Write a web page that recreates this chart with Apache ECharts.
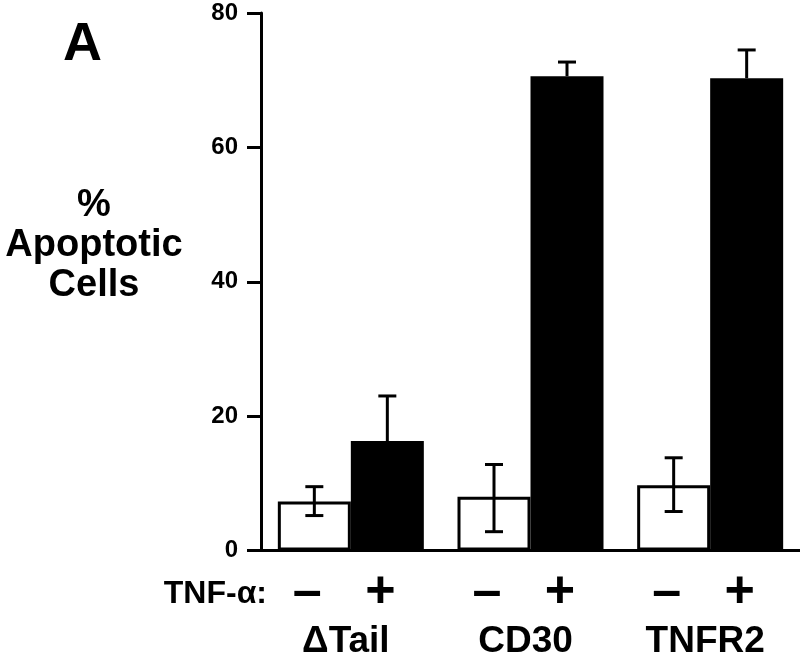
<!DOCTYPE html>
<html>
<head>
<meta charset="utf-8">
<script src="https://cdn.jsdelivr.net/npm/echarts@6/dist/echarts.min.js"></script>
<style>
html,body{margin:0;padding:0;background:#fff;}
#chart{width:800px;height:660px;}
</style>
</head>
<body>
<div id="chart"></div>
<script>
// ---- data ----
const groups = ['ΔTail', 'CD30', 'TNFR2'];
const treatmentSigns = ['–', '+'];
const untreated = [7.3, 8.0, 9.7];
const untreatedLow = [5.2, 2.8, 5.8];
const untreatedHigh = [9.5, 12.8, 13.8];
const treated = [16.3, 70.6, 70.3];
const treatedHigh = [23.0, 72.7, 74.5];
const yMin = 0, yMax = 80, yInterval = 20;

// ---- styling ----
const FONT = '"Liberation Sans", Arial, Helvetica, sans-serif';
const BAR_W = 73;

const chart = echarts.init(document.getElementById('chart'), null, {renderer: 'canvas'});

const errData = [];
groups.forEach((g, i) => {
  errData.push([i, untreatedLow[i], untreatedHigh[i], 0]);
  errData.push([i, treated[i], treatedHigh[i], 1]);
});

function renderErr(params, api) {
  const ci = api.value(0);
  const lo = api.coord([ci, api.value(1)]);
  const hi = api.coord([ci, api.value(2)]);
  const which = api.value(3);
  const x = lo[0] + (which === 0 ? -BAR_W / 2 : BAR_W / 2);
  const cap = 9;
  const style = {stroke: '#000', lineWidth: 3, fill: null};
  const children = [
    {type: 'line', shape: {x1: x, y1: lo[1], x2: x, y2: hi[1]}, style},
    {type: 'line', shape: {x1: x - cap, y1: hi[1], x2: x + cap, y2: hi[1]}, style}
  ];
  if (which === 0) {
    children.push({type: 'line', shape: {x1: x - cap, y1: lo[1], x2: x + cap, y2: lo[1]}, style});
  }
  return {type: 'group', children};
}

const option = {
  backgroundColor: '#fff',
  animation: false,
  grid: {left: 261, top: 13, width: 540, bottom: 108, containLabel: false},
  xAxis: {
    type: 'category',
    data: groups,
    axisLine: {lineStyle: {color: '#000', width: 3}},
    axisTick: {show: false},
    axisLabel: {
      margin: 20,
      interval: 0,
      formatter: function (v) {
        return '{s|' + treatmentSigns[0] + '}{s|' + treatmentSigns[1] + '}{pad|}\n{n|' + v + '}';
      },
      rich: {
        s: {width: BAR_W, align: 'center', fontSize: 52, fontWeight: 'bold', fontFamily: FONT, color: '#000', lineHeight: 44},
        pad: {width: 14, lineHeight: 44},
        n: {fontSize: 37, fontWeight: 'bold', fontFamily: FONT, color: '#000', lineHeight: 54, padding: [0, 10, 0, 0]}
      }
    }
  },
  yAxis: {
    type: 'value',
    min: yMin, max: yMax, interval: yInterval,
    axisLine: {show: true, lineStyle: {color: '#000', width: 3}},
    axisTick: {show: true, inside: false, length: 14, lineStyle: {color: '#000', width: 3}},
    splitLine: {show: false},
    axisLabel: {margin: 23, fontSize: 24, fontWeight: 'bold', fontFamily: FONT, color: '#000'}
  },
  series: [
    {
      type: 'bar', data: untreated, barWidth: BAR_W, barGap: '0%',
      itemStyle: {color: '#fff', borderColor: '#000', borderWidth: 3}
    },
    {
      type: 'bar', data: treated, barWidth: BAR_W, barGap: '0%',
      itemStyle: {color: '#000', borderColor: '#000', borderWidth: 0}
    },
    {
      type: 'custom', renderItem: renderErr, data: errData, z: 10,
      encode: {x: 0, y: [1, 2]}
    }
  ],
  graphic: [
    {type: 'text', left: 63, top: 18, style: {text: 'A', font: 'bold 54px ' + FONT, fill: '#000'}},
    {type: 'text', x: 94, y: 186, style: {text: '%\nApoptotic\nCells', font: 'bold 38px ' + FONT, fill: '#000', textAlign: 'center', lineHeight: 40}},
    {type: 'text', x: 267, y: 594, style: {text: 'TNF-α:', font: 'bold 32px ' + FONT, fill: '#000', textAlign: 'right', textVerticalAlign: 'middle'}}
  ]
};
chart.setOption(option);
</script>
</body>
</html>
